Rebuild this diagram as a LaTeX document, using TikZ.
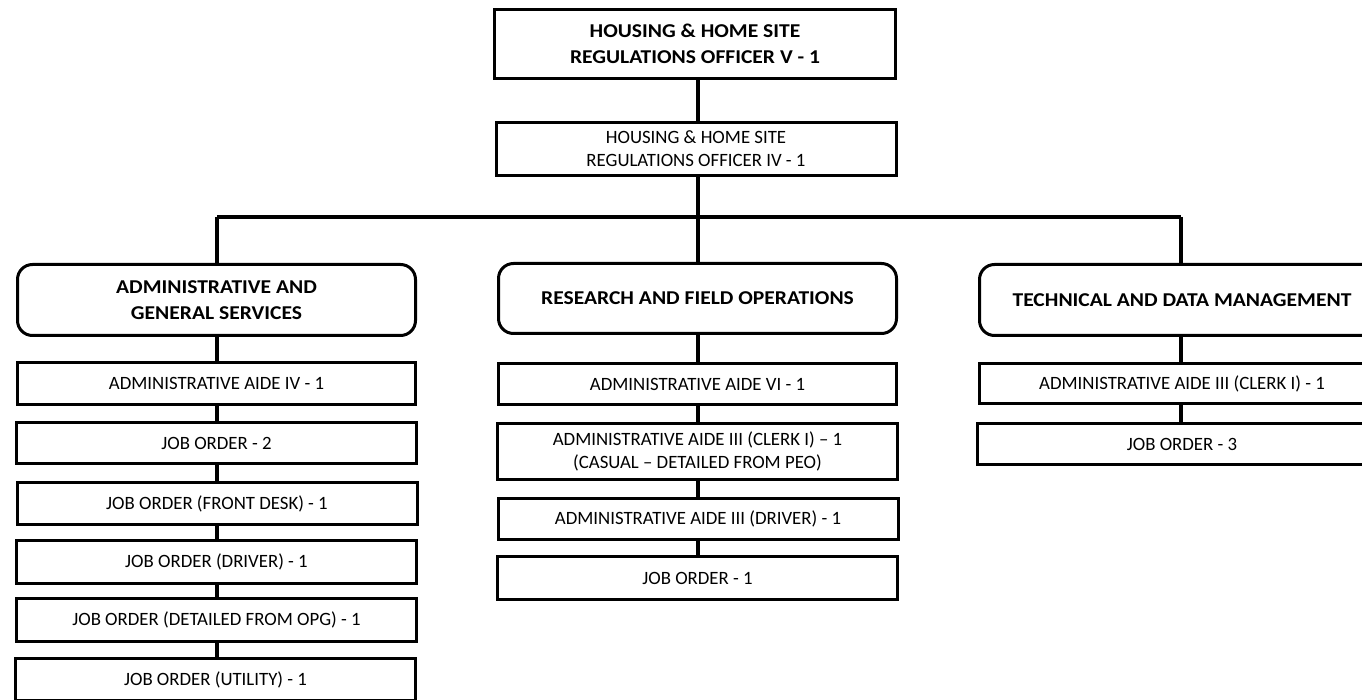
\documentclass[tikz,border=0pt]{standalone}
\usepackage{fontspec}
\setmainfont{Carlito}
\newfontfamily\headfont{Carlito}[BoldFeatures={FakeStretch=1.1}]
\begin{document}
\begin{tikzpicture}[x=1pt,y=-1pt,
  every node/.style={inner sep=0pt, outer sep=0pt, align=center},
  post/.style={draw=black, line width=3pt, rectangle, minimum width=#1,
    font=\fontsize{18.8}{23}\selectfont},
  chief/.style={draw=black, line width=3.2pt, rectangle, minimum width=401, minimum height=69,
    font=\headfont\bfseries\fontsize{19.6}{26}\selectfont},
  unit/.style={draw=black, line width=3pt, rectangle, rounded corners=15pt,
    minimum width=#1, minimum height=71, font=\headfont\bfseries\fontsize{19.6}{26}\selectfont},
  link/.style={draw=black, line width=3.2pt}]
\useasboundingbox (0,0) rectangle (1362,700);
\clip (0,0) rectangle (1362,700);

% top of the office
\node[chief] (head) at (695,44) {HOUSING \& HOME SITE\\REGULATIONS OFFICER V - 1};
\node[post=400, minimum height=53] (deputy) at (696,149) {HOUSING \& HOME SITE\\REGULATIONS OFFICER IV - 1};

% spine and branch points
\coordinate (spine) at (698,217);
\coordinate (b1) at (217,217);
\coordinate (b2) at (698,217);
\coordinate (b3) at (1181,217);

% division heads
\node[unit=398] (adm) at (216.5,300) {ADMINISTRATIVE AND\\GENERAL SERVICES};
\node[unit=398, minimum height=70] (rfo) at (697.5,298.5) {RESEARCH AND FIELD OPERATIONS};
\node[unit=405] (tdm) at (1182,300) {TECHNICAL AND DATA MANAGEMENT};

% administrative and general services
\node[post=398, minimum height=42] (a1) at (216.5,383.5) {ADMINISTRATIVE AIDE IV - 1};
\node[post=400, minimum height=41] (a2) at (216.5,443) {JOB ORDER - 2};
\node[post=400, minimum height=42] (a3) at (217,503.5) {JOB ORDER (FRONT DESK) - 1};
\node[post=400, minimum height=43] (a4) at (216.5,562) {JOB ORDER (DRIVER) - 1};
\node[post=400, minimum height=43] (a5) at (216.5,620) {JOB ORDER (DETAILED FROM OPG) - 1};
\node[post=400, minimum height=42] (a6) at (215.5,679.5) {JOB ORDER (UTILITY) - 1};

% research and field operations
\node[post=398, minimum height=41] (r1) at (697.5,384) {ADMINISTRATIVE AIDE VI - 1};
\node[post=400, minimum height=56] (r2) at (697.5,451.5) {ADMINISTRATIVE AIDE III (CLERK I) -- 1\\(CASUAL -- DETAILED FROM PEO)};
\node[post=400, minimum height=41] (r3) at (698,519) {ADMINISTRATIVE AIDE III (DRIVER) - 1};
\node[post=400, minimum height=43] (r4) at (697.5,578) {JOB ORDER - 1};

% technical and data management
\node[post=405, minimum height=40] (t1) at (1182,383.5) {ADMINISTRATIVE AIDE III (CLERK I) - 1};
\node[post=410, minimum height=41] (t2) at (1182,444) {JOB ORDER - 3};

% connectors
\draw[link] (head.south -| spine) -- (deputy.north -| spine);
\draw[link] (deputy.south -| spine) -- (spine);
\draw[link] (b1) -- (b3);
\draw[link] (b1) -- (adm.north -| b1);
\draw[link] (b2) -- (rfo.north -| b2);
\draw[link] (b3) -- (tdm.north -| b3);

\draw[link] (adm.south -| b1) -- (a1.north -| b1);
\draw[link] (a1.south -| b1) -- (a2.north -| b1);
\draw[link] (a2.south -| b1) -- (a3.north -| b1);
\draw[link] (a3.south -| b1) -- (a4.north -| b1);
\draw[link] (a4.south -| b1) -- (a5.north -| b1);
\draw[link] (a5.south -| b1) -- (a6.north -| b1);

\draw[link] (rfo.south -| b2) -- (r1.north -| b2);
\draw[link] (r1.south -| b2) -- (r2.north -| b2);
\draw[link] (r2.south -| b2) -- (r3.north -| b2);
\draw[link] (r3.south -| b2) -- (r4.north -| b2);

\draw[link] (tdm.south -| b3) -- (t1.north -| b3);
\draw[link] (t1.south -| b3) -- (t2.north -| b3);
\end{tikzpicture}
\end{document}
